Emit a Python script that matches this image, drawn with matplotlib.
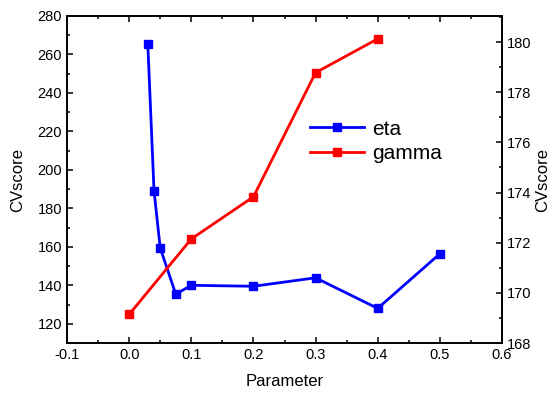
import matplotlib.pyplot as plt
from matplotlib.ticker import MultipleLocator

plt.rcParams['font.family'] = ['Liberation Sans', 'DejaVu Sans']
plt.rcParams['axes.linewidth'] = 1.2

eta_x = [0.03, 0.04, 0.05, 0.075, 0.1, 0.2, 0.3, 0.4, 0.5]
eta_cv = [265.6, 189.2, 159.4, 135.4, 140.0, 139.5, 143.9, 128.0, 156.4]
gamma_x = [0.0, 0.1, 0.2, 0.3, 0.4]
gamma_cv = [169.14, 172.15, 173.83, 178.78, 180.13]

fig = plt.figure(figsize=(5.52, 3.96), dpi=100)
ax = fig.add_axes([0.1214, 0.1338, 0.788, 0.8258])
ax2 = ax.twinx()

l1, = ax.plot(eta_x, eta_cv, color='blue', marker='s', markersize=6, lw=2, label='eta')
l2, = ax2.plot(gamma_x, gamma_cv, color='red', marker='s', markersize=6, lw=2, label='gamma')

ax.set_xlim(-0.1, 0.6)
ax.set_ylim(110, 280)
ax2.set_ylim(168, 181.04)

ax.xaxis.set_major_locator(MultipleLocator(0.1))
ax.xaxis.set_minor_locator(MultipleLocator(0.05))
ax.yaxis.set_major_locator(MultipleLocator(20))
ax.yaxis.set_minor_locator(MultipleLocator(10))
ax2.yaxis.set_major_locator(MultipleLocator(2))
ax2.yaxis.set_minor_locator(MultipleLocator(1))

for a in (ax, ax2):
    a.tick_params(which='both', direction='in', labelsize=10.5, width=1.1)
    a.tick_params(which='major', length=4.5)
    a.tick_params(which='minor', length=2.5)
ax.tick_params(which='both', top=True)
ax.set_xticklabels([f'{v:.1f}' for v in ax.get_xticks()])

ax.set_xlabel('Parameter', fontsize=12, labelpad=9)
ax.set_ylabel('CVscore', fontsize=12, labelpad=9)
ax2.set_ylabel('CVscore', fontsize=12, labelpad=3)

ax.legend(handles=[l1, l2], loc='upper left', bbox_to_anchor=(0.516, 0.74),
          frameon=False, fontsize=15, handlelength=2.6, labelspacing=0.25,
          handletextpad=0.35)

fig.savefig('out.png', dpi=100)
